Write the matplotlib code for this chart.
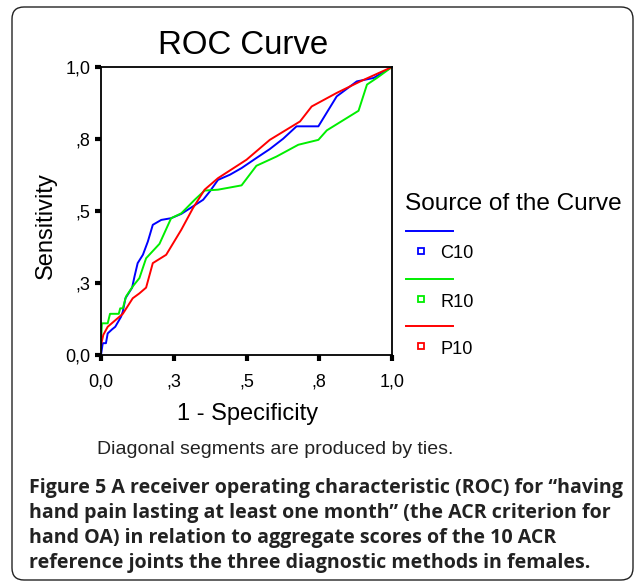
import matplotlib
matplotlib.use("Agg")
import matplotlib.pyplot as plt
from matplotlib.patches import FancyBboxPatch
from matplotlib.lines import Line2D
from matplotlib.transforms import IdentityTransform

# ROC curves (1 - specificity, sensitivity)
c10_x = [0, 0.006, 0.017, 0.023, 0.038, 0.049, 0.069, 0.075, 0.084, 0.107, 0.115, 0.126,
         0.144, 0.161, 0.178, 0.207, 0.241, 0.276, 0.316, 0.351, 0.374, 0.402, 0.443,
         0.483, 0.534, 0.580, 0.626, 0.672, 0.747, 0.810, 0.879, 0.937, 1.0]
c10_y = [0, 0.041, 0.041, 0.075, 0.089, 0.098, 0.133, 0.151, 0.197, 0.234, 0.272, 0.319,
         0.348, 0.394, 0.452, 0.469, 0.475, 0.490, 0.516, 0.539, 0.568, 0.608, 0.626,
         0.649, 0.684, 0.715, 0.751, 0.794, 0.794, 0.898, 0.950, 0.962, 1.0]

r10_x = [0, 0.003, 0.023, 0.031, 0.061, 0.066, 0.075, 0.086, 0.109, 0.132, 0.155, 0.201,
         0.241, 0.276, 0.322, 0.356, 0.402, 0.483, 0.534, 0.603, 0.678, 0.747, 0.776,
         0.885, 0.914, 0.948, 1.0]
r10_y = [0.041, 0.110, 0.110, 0.143, 0.143, 0.162, 0.162, 0.203, 0.238, 0.267, 0.336, 0.386,
         0.475, 0.492, 0.539, 0.571, 0.574, 0.589, 0.657, 0.689, 0.730, 0.747, 0.780,
         0.848, 0.939, 0.962, 1.0]

p10_x = [0, 0.008, 0.023, 0.075, 0.109, 0.132, 0.155, 0.178, 0.224, 0.276, 0.316, 0.356,
         0.402, 0.5, 0.580, 0.684, 0.724, 0.810, 0.891, 1.0]
p10_y = [0.035, 0.070, 0.098, 0.143, 0.197, 0.214, 0.234, 0.319, 0.348, 0.435, 0.510, 0.574,
         0.614, 0.678, 0.747, 0.811, 0.863, 0.910, 0.950, 1.0]

tick_vals = [0, 0.25, 0.5, 0.75, 1.0]
tick_labels = ["0,0", ",3", ",5", ",8", "1,0"]

series_names = ["C10", "R10", "P10"]
series_colors = ["#0000ff", "#00ee00", "#ff0000"]

plt.rcParams['font.family'] = ['Liberation Sans', 'DejaVu Sans']

W, H = 636, 585
fig = plt.figure(figsize=(W / 100, H / 100), dpi=100)

# rounded frame around everything
frame = FancyBboxPatch((12, 5), 621, 573, boxstyle="round,pad=0,rounding_size=12",
                       transform=IdentityTransform(), facecolor="none",
                       edgecolor="#222222", linewidth=1.0)
fig.patches.append(frame)

ax = fig.add_axes([101 / W, 1 - 355 / H, 291 / W, 288 / H])
for xs, ys, col in zip([c10_x, r10_x, p10_x], [c10_y, r10_y, p10_y], series_colors):
    ax.plot(xs, ys, color=col, lw=1.4)

ax.set_xlim(0, 1)
ax.set_ylim(0, 1)
ax.set_xticks(tick_vals)
ax.set_xticklabels(tick_labels)
ax.set_yticks(tick_vals)
ax.set_yticklabels(tick_labels)
ax.tick_params(direction="out", length=4, width=3, labelsize=13)
ax.tick_params(axis="x", pad=9.5)
ax.tick_params(axis="y", pad=3.5)
for sp in ax.spines.values():
    sp.set_linewidth(1.3)

ax.set_xlabel("1 - Specificity", fontsize=17)
ax.xaxis.set_label_coords(0.505, -0.165)
ax.set_ylabel("Sensitivity", fontsize=17)
ax.yaxis.set_label_coords(-0.15, 0.448)
fig.text(243 / W, 1 - 45 / H, "ROC Curve", fontsize=23.8, ha="center", va="center")

# legend drawn by hand
fig.text(405 / W, 1 - 204 / H, "Source of the Curve", fontsize=17.6, va="center")
line_y = [231, 279, 326]
for name, col, ly in zip(series_names, series_colors, line_y):
    fig.add_artist(Line2D([406 / W, 453 / W], [1 - ly / H, 1 - ly / H],
                          color=col, lw=1.4, transform=fig.transFigure))
    fig.add_artist(Line2D([421 / W], [1 - (ly + 20) / H], marker="s", ms=5,
                          mfc="none", mec=col, mew=1.3, transform=fig.transFigure))
    fig.text(440 / W, 1 - (ly + 23) / H, name, fontsize=13.1, va="center")

fig.text(97 / W, 1 - 449 / H, "Diagonal segments are produced by ties.",
         fontsize=14, va="center", color="#222222")

caption = ["Figure 5 A receiver operating characteristic (ROC) for \u201chaving",
           "hand pain lasting at least one month\u201d (the ACR criterion for",
           "hand OA) in relation to aggregate scores of the 10 ACR",
           "reference joints the three diagnostic methods in females."]
for i, line in enumerate(caption):
    fig.text(29 / W, 1 - (488 + 25 * i) / H, line, fontsize=14.1, fontweight="bold",
             family="Open Sans", va="center", color="#222222")

fig.savefig("out.png", dpi=100)
